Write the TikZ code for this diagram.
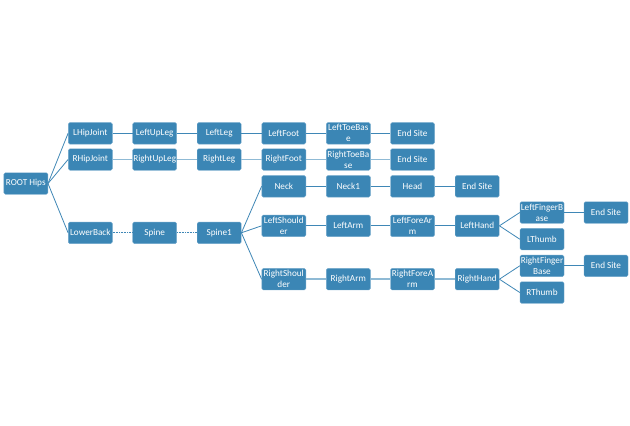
\documentclass[tikz,border=0pt]{standalone}
\usepackage{fontspec}
\setmainfont{Carlito}
\definecolor{boxblue}{HTML}{3B86B5}
\definecolor{boxedge}{HTML}{6FA6CB}
\definecolor{lineblue}{HTML}{3F87B6}
\definecolor{lightline}{HTML}{8FBAD5}
\begin{document}
\begin{tikzpicture}[x=1pt,y=-1pt,
  bx/.style={rectangle,rounded corners=1.5pt,fill=boxblue,draw=boxedge,line width=0.4pt,
    minimum width=44pt,minimum height=21.5pt,inner sep=0pt,text=white,align=center,
    font=\fontsize{9.2}{11}\selectfont},
  ln/.style={draw=lineblue,line width=0.8pt},
  lnl/.style={draw=lightline,line width=1.6pt},
  lnd/.style={draw=lineblue,line width=0.8pt,dash pattern=on 0.8pt off 0.8pt}]
\fill[white] (0,0) rectangle (630,426);
\node[bx] (root) at (25.8,183.5) {ROOT Hips};
\node[bx] (lhj) at (90.3,133.3) {LHipJoint};
\node[bx] (rhj) at (90.3,159.5) {RHipJoint};
\node[bx] (lb) at (90.3,232.8) {LowerBack};
\node[bx] (lul) at (154.7,133.3) {LeftUpLeg};
\node[bx] (rul) at (154.7,159.5) {RightUpLeg};
\node[bx] (sp) at (154.7,232.8) {Spine};
\node[bx] (ll) at (219.2,133.3) {LeftLeg};
\node[bx] (rl) at (219.2,159.5) {RightLeg};
\node[bx] (sp1) at (219.2,232.8) {Spine1};
\node[bx] (lf) at (283.8,133.3) {LeftFoot};
\node[bx] (rf) at (283.8,159.5) {RightFoot};
\node[bx] (nk) at (283.8,186.3) {Neck};
\node[bx] (ls) at (283.8,225.8) {LeftShould\\er};
\node[bx] (rs) at (283.8,279.2) {RightShoul\\der};
\node[bx] (ltb) at (348.3,133.3) {LeftToeBas\\e};
\node[bx] (rtb) at (348.3,159.5) {RightToeBa\\se};
\node[bx] (nk1) at (348.3,186.3) {Neck1};
\node[bx] (la) at (348.3,225.8) {LeftArm};
\node[bx] (ra) at (348.3,279.2) {RightArm};
\node[bx] (e1) at (412.5,133.3) {End Site};
\node[bx] (e2) at (412.5,159.5) {End Site};
\node[bx] (hd) at (412.5,186.3) {Head};
\node[bx] (lfa) at (412.5,225.8) {LeftForeAr\\m};
\node[bx] (rfa) at (412.5,279.2) {RightForeA\\rm};
\node[bx] (e3) at (477.2,186.3) {End Site};
\node[bx] (lh) at (477.2,225.8) {LeftHand};
\node[bx] (rh) at (477.2,279.2) {RightHand};
\node[bx] (lfb) at (542,212.5) {LeftFingerB\\ase};
\node[bx] (lt) at (542,239.2) {LThumb};
\node[bx] (rfb) at (542,265.8) {RightFinger\\Base};
\node[bx] (rt) at (542,292.5) {RThumb};
\node[bx] (e4) at (606,212.5) {End Site};
\node[bx] (e5) at (606,265.8) {End Site};
% connectors
\draw[ln] (root.east) -- (lhj.west);
\draw[ln] (root.east) -- (rhj.west);
\draw[ln] (root.east) -- (lb.west);
\draw[ln] (lhj) -- (lul);
\draw[ln] (lul) -- (ll);
\draw[ln] (ll) -- (lf);
\draw[ln] (lf) -- (ltb);
\draw[ln] (ltb) -- (e1);
\draw[lnl] (rhj) -- (rul);
\draw[lnl] (rul) -- (rl);
\draw[lnl] (rl) -- (rf);
\draw[lnl] (rf) -- (rtb);
\draw[lnl] (rtb) -- (e2);
\draw[lnd] (lb) -- (sp);
\draw[lnd] (sp) -- (sp1);
\draw[ln] (sp1.east) -- (nk.west);
\draw[ln] (sp1.east) -- (ls.west);
\draw[ln] (sp1.east) -- (rs.west);
\draw[ln] (nk) -- (nk1);
\draw[ln] (nk1) -- (hd);
\draw[ln] (hd) -- (e3);
\draw[ln] (ls) -- (la);
\draw[ln] (la) -- (lfa);
\draw[ln] (lfa) -- (lh);
\draw[ln] (lh.east) -- (lfb.west);
\draw[ln] (lh.east) -- (lt.west);
\draw[ln] (lfb) -- (e4);
\draw[lnl] (rs) -- (ra);
\draw[lnl] (ra) -- (rfa);
\draw[lnl] (rfa) -- (rh);
\draw[ln] (rh.east) -- (rfb.west);
\draw[ln] (rh.east) -- (rt.west);
\draw[ln] (rfb) -- (e5);
\end{tikzpicture}
\end{document}
